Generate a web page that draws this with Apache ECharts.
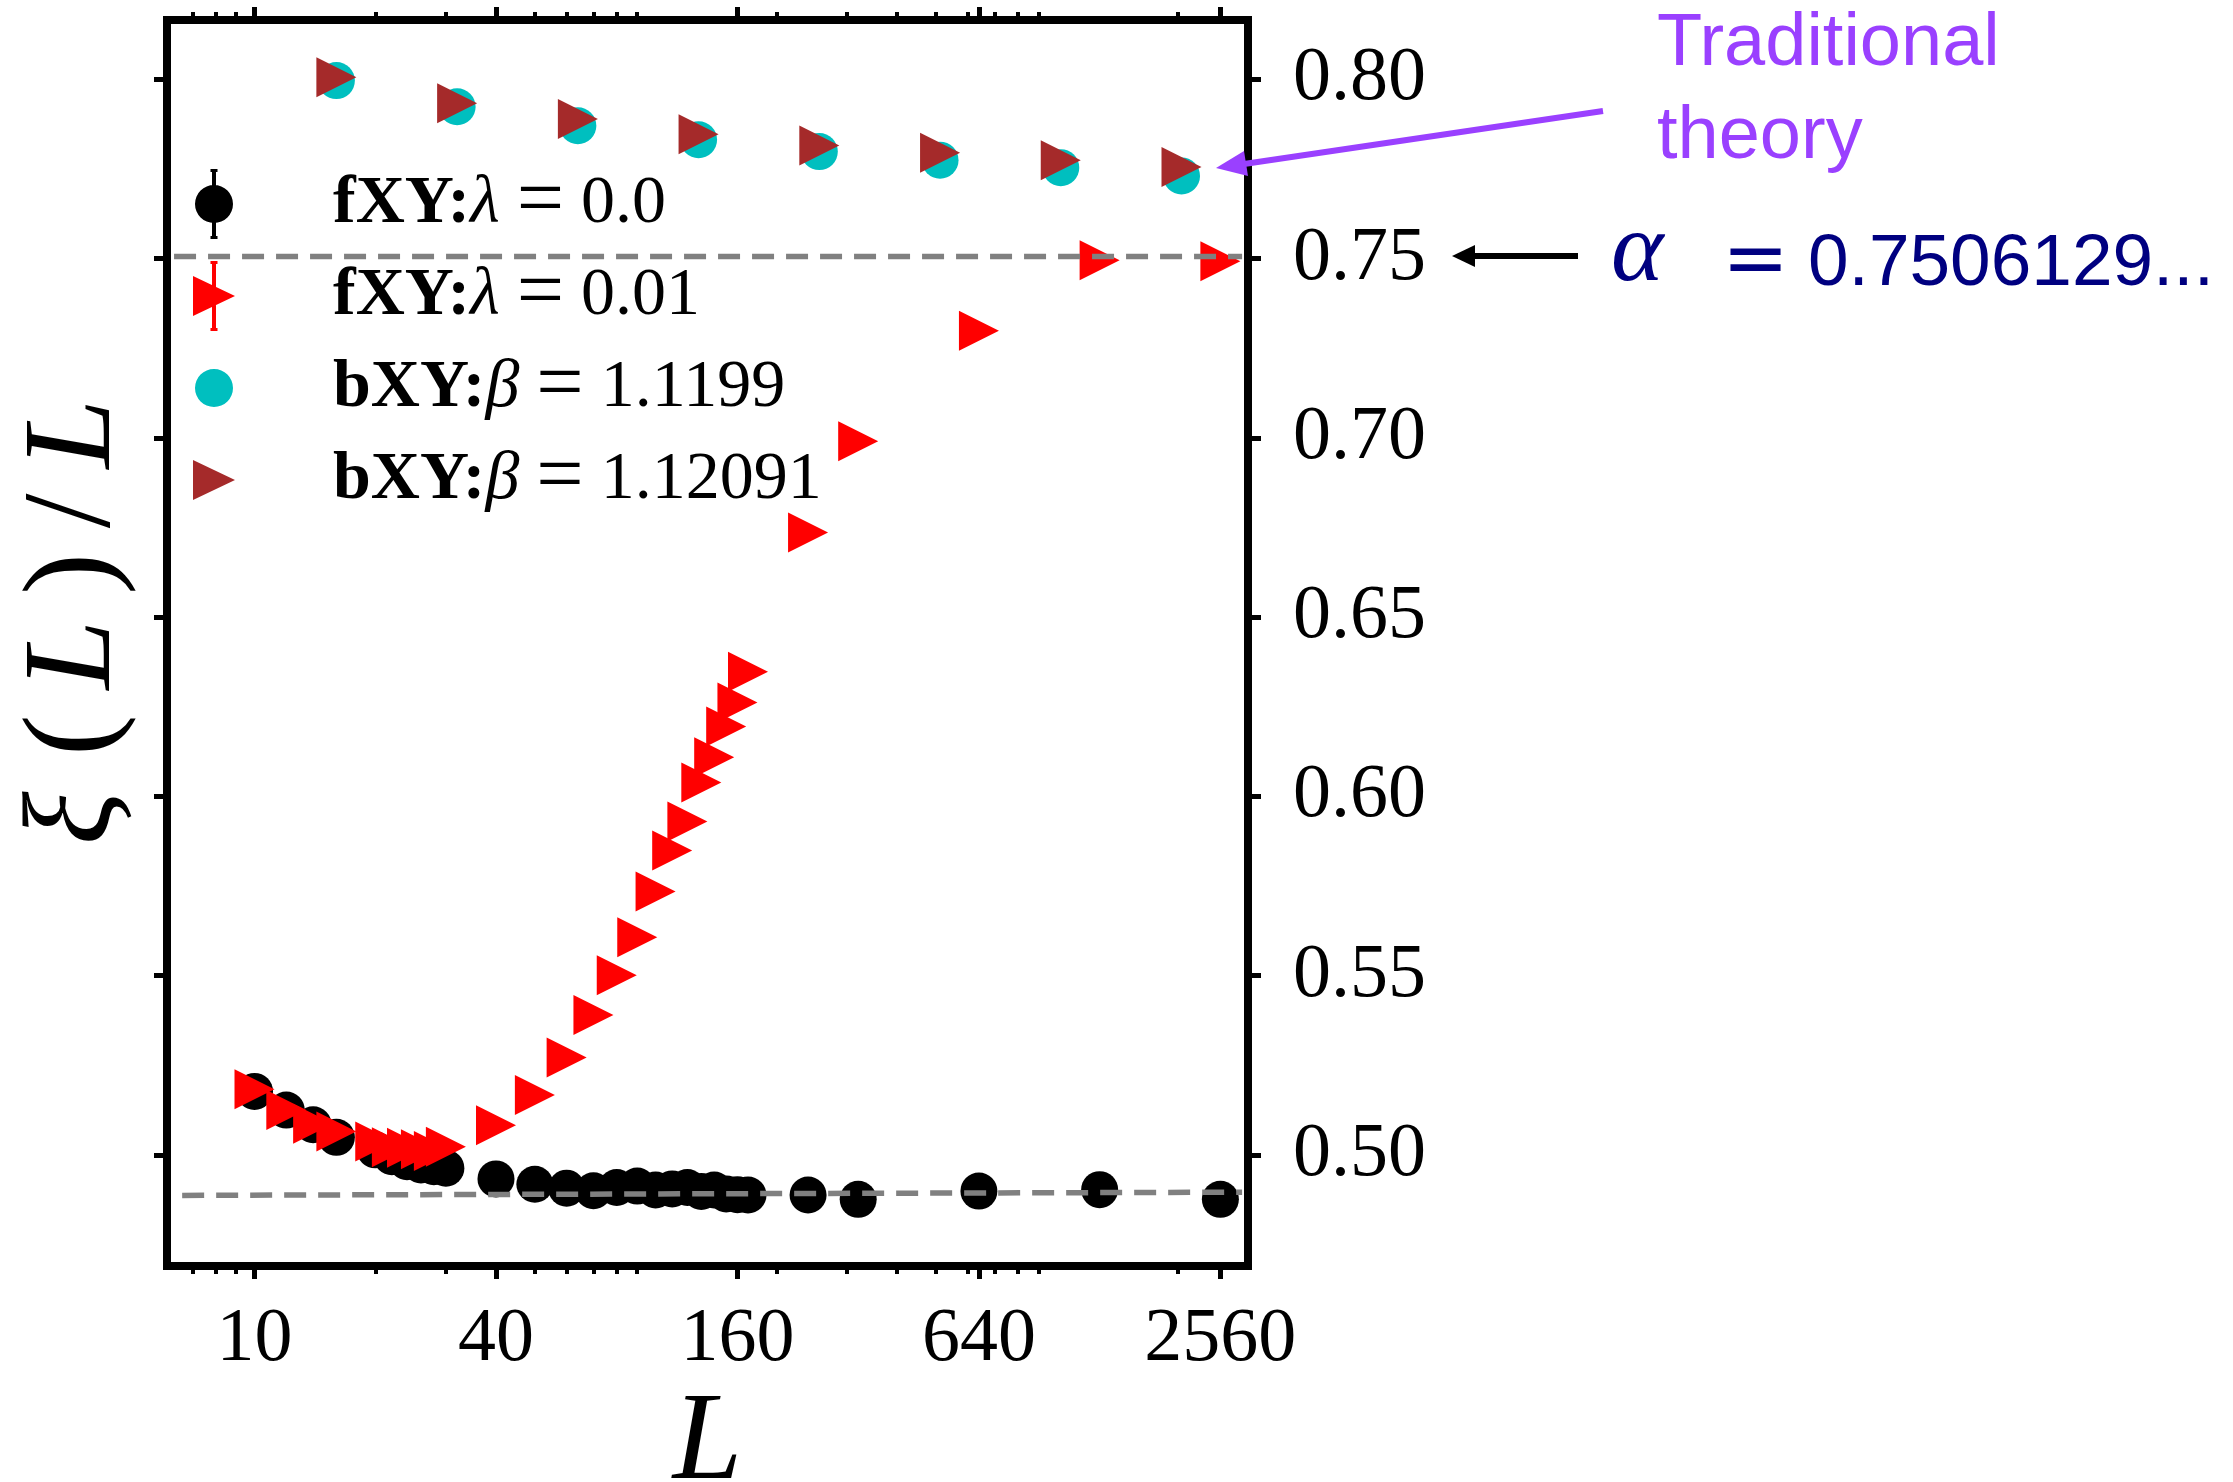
<!DOCTYPE html>
<html>
<head>
<meta charset="utf-8">
<script src="https://cdn.jsdelivr.net/npm/echarts@6/dist/echarts.min.js"></script>
<style>
  html, body { margin: 0; padding: 0; background: #fff; }
  #chart { width: 2233px; height: 1482px; }
</style>
</head>
<body>
<div id="chart"></div>
<script>
// lattice sizes L for the fXY runs
const sizesF = [10, 12, 14, 16, 20, 22, 24, 26, 28, 30, 40, 50, 60, 70, 80, 90, 100,
                110, 120, 130, 140, 150, 160, 170, 240, 320, 640, 1280, 2560];
// xi(L)/L, fXY lambda = 0.0
const xiLam0 = [0.5177, 0.5125, 0.5084, 0.5049, 0.5014, 0.4995, 0.4981, 0.4972, 0.4967, 0.4963,
                0.4933, 0.4918, 0.4907, 0.4900, 0.4909, 0.4913, 0.4902, 0.4905, 0.4909, 0.4898,
                0.4902, 0.4891, 0.4889, 0.4888, 0.4888, 0.4876, 0.4899, 0.4903, 0.4876];
// xi(L)/L, fXY lambda = 0.01
const xiLam001 = [0.5183, 0.5125, 0.5087, 0.5065, 0.5037, 0.5021, 0.5020, 0.5016, 0.5011, 0.5023,
                  0.5083, 0.5167, 0.5272, 0.5390, 0.5501, 0.5607, 0.5735, 0.5849, 0.5930, 0.6039,
                  0.6109, 0.6195, 0.6262, 0.6348, 0.6736, 0.6991, 0.7299, 0.7496, 0.7493];
// lattice sizes for the bXY runs
const sizesB = [16, 32, 64, 128, 256, 512, 1024, 2048];
const xiBeta11199 = [0.7997, 0.7924, 0.7871, 0.7832, 0.7799, 0.7775, 0.7754, 0.7731];
const xiBeta112091 = [0.8006, 0.7934, 0.7890, 0.7847, 0.7816, 0.7796, 0.7775, 0.7756];

// dashed reference lines
const alphaL = [6.3, 2900];
const alphaXi = [0.7506129, 0.7506129];
const floorL = [6.6, 2900];
const floorXi = [0.4887, 0.4896];

const seriesNames = ['fXY:λ = 0.0', 'fXY:λ = 0.01', 'bXY:β = 1.1199', 'bXY:β = 1.12091'];

// ticks
const xMajor = [10, 40, 160, 640, 2560];
const xMinor = [7, 8, 9, 20, 30, 50, 60, 70, 80, 90, 200, 300, 400, 500, 600, 700, 800, 900, 2000];
const yTicks = [0.50, 0.55, 0.60, 0.65, 0.70, 0.75, 0.80];
const xMin = 6.05, xMax = 3000;
const yMin = 0.469, yMax = 0.8166;

const SERIF = '"Liberation Serif", "Times New Roman", serif';
const purple = '#9a40ff';
const navy = '#000080';

function pairs(xs, ys) {
  return xs.map((x, i) => [x, ys[i]]);
}

function xAxis(position, ticks, len, width, withLabels) {
  const ax = {
    type: 'log', logBase: 10, position: position, min: xMin, max: xMax,
    axisLine: { show: false, onZero: false },
    splitLine: { show: false },
    minorTick: { show: false },
    axisTick: { show: true, customValues: ticks, length: len, lineStyle: { color: '#000', width: width } },
    axisLabel: { show: false }
  };
  if (withLabels) {
    ax.axisLabel = {
      show: true, customValues: ticks, margin: 36,
      formatter: v => String(Math.round(v)),
      color: '#000', fontFamily: SERIF, fontSize: 76
    };
    ax.name = 'L';
    ax.nameLocation = 'middle';
    ax.nameGap = 96;
    ax.nameTextStyle = { fontFamily: SERIF, fontStyle: 'italic', fontSize: 125, color: '#000' };
  }
  return ax;
}

function yAxis(position, withLabels) {
  const ax = {
    type: 'value', position: position, min: yMin, max: yMax,
    axisLine: { show: false, onZero: false },
    splitLine: { show: false },
    axisTick: { show: true, customValues: yTicks, length: 13, lineStyle: { color: '#000', width: 5 } },
    axisLabel: { show: false }
  };
  if (withLabels) {
    ax.axisLabel = {
      show: true, customValues: yTicks, margin: 45,
      formatter: v => v.toFixed(2),
      color: '#000', fontFamily: SERIF, fontSize: 76
    };
  }
  return ax;
}

// legend icons: 42 x 70 boxes, with error bars for the fXY runs
const anchor = 'M0,0L0,0ZM42,70L42,70Z';
const circ = 'M2,35A19,19,0,1,1,40,35A19,19,0,1,1,2,35Z';
const tri = 'M0,15L42,35L0,55Z';
const bar = 'M19,2L23,2L23,68L19,68ZM17.5,0L24.5,0L24.5,3L17.5,3ZM17.5,67L24.5,67L24.5,70L17.5,70Z';
const icons = [
  'path://' + anchor + circ + bar,
  'path://' + anchor + tri + bar,
  'path://' + anchor + circ,
  'path://' + anchor + tri
];

const chart = echarts.init(document.getElementById('chart'));

chart.setOption({
  animation: false,
  backgroundColor: '#fff',
  grid: {
    left: 167, right: 985, top: 20, bottom: 216,
    outerBoundsMode: 'none', containLabel: false,
    show: true, borderColor: '#000', borderWidth: 8, backgroundColor: 'transparent'
  },
  xAxis: [
    xAxis('bottom', xMajor, 13, 5, true),
    xAxis('bottom', xMinor, 8, 4, false),
    xAxis('top', xMajor, 13, 5, false),
    xAxis('top', xMinor, 8, 4, false)
  ],
  yAxis: [
    Object.assign(yAxis('left', false), {
      name: '{i|ξ}{r|\u2009\u200a(\u2009}{i|L}{r|\u2009)\u2009/\u2009}{i|L}',
      nameLocation: 'middle',
      nameGap: 28,
      nameTextStyle: {
        padding: [0, 0, 0, 42],
        rich: {
          i: { fontFamily: SERIF, fontStyle: 'italic', fontSize: 125, color: '#000' },
          r: { fontFamily: SERIF, fontSize: 125, color: '#000' }
        }
      }
    }),
    yAxis('right', true)
  ],
  legend: {
    orient: 'vertical', left: 193, top: 162, padding: 0,
    itemWidth: 42, itemHeight: 70, itemGap: 8,
    selectedMode: false, symbolRotate: 0,
    data: seriesNames.map((n, i) => ({ name: n, icon: icons[i] })),
    formatter: name => {
      const head = name.split(':')[0];
      const rest = name.split(':')[1].split(' = ');
      return '{sp|}{b|' + head + ':}{i|' + rest[0] + '}{r| }{e|=}{r| ' + rest[1] + '}';
    },
    textStyle: {
      rich: {
        sp: { width: 93 },
        b: { fontFamily: SERIF, fontWeight: 'bold', fontSize: 68, color: '#000' },
        i: { fontFamily: SERIF, fontStyle: 'italic', fontSize: 68, color: '#000' },
        e: { fontFamily: SERIF, fontSize: 84, color: '#000' },
        r: { fontFamily: SERIF, fontSize: 68, color: '#000' }
      }
    }
  },
  series: [
    {
      name: seriesNames[0], type: 'scatter',
      data: pairs(sizesF, xiLam0),
      symbol: 'circle', symbolSize: 37,
      itemStyle: { color: '#000000', opacity: 1 }
    },
    {
      name: 'floor', type: 'line', data: pairs(floorL, floorXi),
      showSymbol: false, silent: true,
      lineStyle: { color: '#808080', width: 5.5, type: [22, 12] }
    },
    {
      name: 'alpha', type: 'line', data: pairs(alphaL, alphaXi),
      showSymbol: false, silent: true,
      lineStyle: { color: '#808080', width: 5.5, type: [22, 12] }
    },
    {
      name: seriesNames[1], type: 'scatter',
      data: pairs(sizesF, xiLam001),
      symbol: 'triangle', symbolSize: [40, 40], symbolRotate: -90,
      itemStyle: { color: '#ff0000', opacity: 1 }
    },
    {
      name: seriesNames[2], type: 'scatter',
      data: pairs(sizesB, xiBeta11199),
      symbol: 'circle', symbolSize: 37,
      itemStyle: { color: '#00bfbf', opacity: 1 }
    },
    {
      name: seriesNames[3], type: 'scatter',
      data: pairs(sizesB, xiBeta112091),
      symbol: 'triangle', symbolSize: [40, 40], symbolRotate: -90,
      itemStyle: { color: '#a52a2a', opacity: 1 }
    }
  ],
  graphic: [
    { type: 'text', x: 1657, y: 45, style: { text: 'Traditional', font: '74px "Liberation Sans"', fill: purple, verticalAlign: 'middle' } },
    { type: 'text', x: 1657, y: 138, style: { text: 'theory', font: '74px "Liberation Sans"', fill: purple, verticalAlign: 'middle' } },
    { type: 'line', shape: { x1: 1603, y1: 111, x2: 1244, y2: 164 }, style: { stroke: purple, lineWidth: 6 } },
    { type: 'polygon', shape: { points: [[1216, 168], [1244, 151], [1248, 176]] }, style: { fill: purple } },
    { type: 'line', shape: { x1: 1578, y1: 256, x2: 1472, y2: 256 }, style: { stroke: '#000', lineWidth: 6 } },
    { type: 'polygon', shape: { points: [[1452, 256], [1475, 245], [1475, 267]] }, style: { fill: '#000' } },
    { type: 'text', x: 1611, y: 254, style: { text: 'α', font: 'italic 100px "Liberation Serif"', fill: navy, verticalAlign: 'middle' } },
    { type: 'text', x: 1722, y: 264, style: { text: '=', font: '80px "DejaVu Sans"', fill: navy, verticalAlign: 'middle' } },
    { type: 'text', x: 1808, y: 265, style: { text: '0.7506129...', font: '73px "Liberation Sans"', fill: navy, verticalAlign: 'middle' } }
  ]
});

window.addEventListener('resize', function () {
  chart.resize();
});
</script>
</body>
</html>
